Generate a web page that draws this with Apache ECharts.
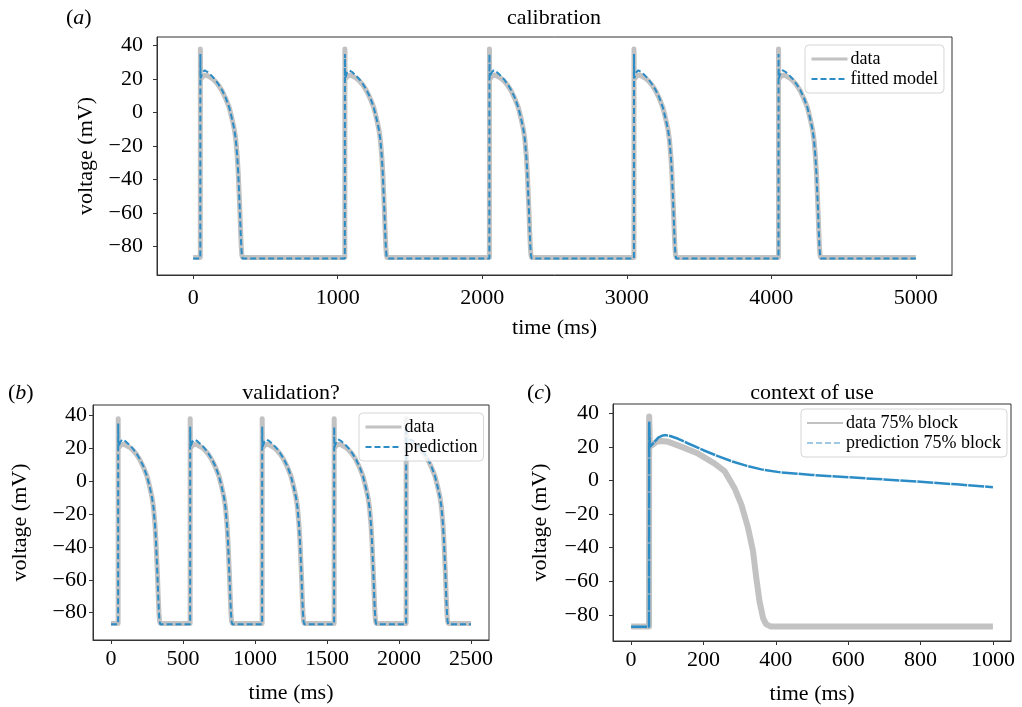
<!DOCTYPE html>
<html><head><meta charset="utf-8">
<script src="https://cdn.jsdelivr.net/npm/echarts@6/dist/echarts.min.js"></script>
<style>html,body{margin:0;padding:0;background:#fff}#c{width:1022px;height:707px}</style>
</head><body><div id="c"></div>
<script>
// ---------- data ----------
// one action-potential beat, time measured from cycle start (upstroke at 50 ms)
const modelBeatT = [0, 49.5, 50, 51.5, 55, 65, 80, 100, 125, 150, 175, 200, 225, 250, 270, 285, 295, 305, 312, 318, 323, 328, 333, 337, 342];
const modelBeatV = [-87, -87, 35, 20.5, 21.5, 24, 25.3, 24.3, 22.3, 20, 17, 13.5, 9, 3, -4, -10, -16, -26, -36, -48, -58, -70, -80, -85, -87];
const dataBeatT  = [0, 49.5, 50, 51.5, 56, 70, 90, 110, 130, 150, 175, 200, 225, 250, 270, 285, 295, 305, 312, 318, 323, 328, 333, 337, 342];
const dataBeatV  = [-86.5, -86.5, 38, 20, 20.5, 22, 22.5, 21.5, 20.5, 19, 16.5, 13, 8.5, 3, -4, -10, -16, -26, -36, -48, -58, -70, -80, -85, -86.5];
const restV = -87;
const restDataV = -86.5;

// (a) calibration: 5 beats, 1000 ms cycle
const calibStarts = [0, 1000, 2000, 3000, 4000];
const calibEnd = 5000;
const calibModelSpike = [35, 35, 35, 35, 35];
// (b) validation: 5 beats, 500 ms cycle
const validStarts = [0, 500, 1000, 1500, 2000];
const validEnd = 2500;
const validModelSpike = [35, 33, 33, 33, 33];

// (c) context of use, 75% block
const blockDataT = [0, 49.5, 50, 52, 58, 70, 85, 103, 140, 185, 231, 259, 286, 305, 323, 337, 346, 355, 365, 373, 385, 1000];
const blockDataV = [-86.8, -86.8, 38, 20, 21, 23, 23.5, 23, 20, 16, 10, 5.4, -4.6, -14.5, -28, -42, -58, -72, -82, -85.5, -86.8, -86.8];
const blockModelT = [0, 49.5, 50, 52, 57, 65, 75, 85, 96, 110, 130, 158, 200, 240, 280, 320, 360, 414, 500, 600, 700, 800, 900, 1000];
const blockModelV = [-87, -87, 35, 20, 20.5, 23, 25.5, 26.6, 27, 26.3, 24.8, 22, 18, 14.5, 11.3, 8.7, 6.6, 4.8, 3.3, 1.9, 0.6, -0.8, -2.3, -4];

// ticks
const yTicks = [-80, -60, -40, -20, 0, 20, 40];
const xTicksA = [0, 1000, 2000, 3000, 4000, 5000];
const xTicksB = [0, 500, 1000, 1500, 2000, 2500];
const xTicksC = [0, 200, 400, 600, 800, 1000];

// ---------- build series ----------
function buildTrain(starts, end, T, V, spikes, rest) {
  const out = [];
  starts.forEach((s, k) => {
    T.forEach((t, i) => {
      let v = V[i];
      if (spikes && i === 2) v = spikes[k];
      out.push([s + t, v]);
    });
  });
  out.push([end, rest]);
  return out;
}
const pair = (T, V) => T.map((t, i) => [t, V[i]]);

const calibData = buildTrain(calibStarts, calibEnd, dataBeatT, dataBeatV, null, restDataV);
const calibModel = buildTrain(calibStarts, calibEnd, modelBeatT, modelBeatV, calibModelSpike, restV);
const validData = buildTrain(validStarts, validEnd, dataBeatT, dataBeatV, null, restDataV);
const validModel = buildTrain(validStarts, validEnd, modelBeatT, modelBeatV, validModelSpike, restV);
const blockData = pair(blockDataT, blockDataV);
const blockModel = pair(blockModelT, blockModelV);

// ---------- styling ----------
const FONT = 'Liberation Serif';
const GRAY = '#c2c2c2';
const BLUE = '#2b8cc6';
const AXC = '#333';
const minus = v => String(v).replace('-', '\u2212');

function xAxis(idx, min, max, ticks, lblMargin) {
  return {
    type: 'value', gridIndex: idx, min, max,
    name: 'time (ms)', nameLocation: 'middle', nameGap: 42,
    nameTextStyle: {fontFamily: FONT, fontSize: 22, color: '#000'},
    axisLine: {show: true, onZero: false, lineStyle: {color: AXC, width: 1}},
    axisTick: {show: true, inside: false, length: 4, lineStyle: {color: AXC}, customValues: ticks},
    axisLabel: {fontFamily: FONT, fontSize: 22, color: '#000', margin: lblMargin, customValues: ticks, formatter: minus},
    splitLine: {show: false}
  };
}
function yAxis(idx, min, max, gap, lblMargin) {
  return {
    type: 'value', gridIndex: idx, min, max,
    name: 'voltage (mV)', nameLocation: 'middle', nameGap: gap,
    nameTextStyle: {fontFamily: FONT, fontSize: 22, color: '#000'},
    axisLine: {show: true, onZero: false, lineStyle: {color: AXC, width: 1}},
    axisTick: {show: true, inside: false, length: 4, lineStyle: {color: AXC}, customValues: yTicks},
    axisLabel: {fontFamily: FONT, fontSize: 22, color: '#000', margin: lblMargin, customValues: yTicks, formatter: minus},
    splitLine: {show: false}
  };
}
function legend(left, top, names, gap) {
  return {
    left, top, orient: 'vertical', itemWidth: 36, itemHeight: 14, itemGap: gap,
    padding: [5, 6, 5, 5], borderColor: '#d6d6d6', borderWidth: 1, borderRadius: 4,
    backgroundColor: 'rgba(255,255,255,0.8)',
    textStyle: {fontFamily: FONT, fontSize: 18, color: '#000', padding: [0, 0, 0, -2]},
    data: names
  };
}
const noSym = {opacity: 0};
const labelTitle = (ch, x, y) => ({
  text: '{p|(}{i|' + ch + '}{p|)}', left: x, top: y, padding: 0,
  textStyle: {fontWeight: 'normal', rich: {p: {fontFamily: FONT, fontSize: 22, fontWeight: 'normal', color: '#000'}, i: {fontFamily: FONT, fontSize: 22, fontStyle: 'italic', fontWeight: 'normal', color: '#000'}}}
});
const mainTitle = (t, x, y) => ({
  text: t, left: x, top: y, textAlign: 'center', padding: 0,
  textStyle: {fontFamily: FONT, fontSize: 22, fontWeight: 'normal', color: '#000'}
});

const option = {
  backgroundColor: '#fff',
  animation: false,
  title: [
    mainTitle('calibration', 554, 7), labelTitle('a', 66, 7),
    mainTitle('validation?', 291, 382), labelTitle('b', 8, 382),
    mainTitle('context of use', 812, 382), labelTitle('c', 527, 382)
  ],
  grid: [
    {left: 157, top: 37, width: 795, height: 238, show: true, borderColor: AXC, borderWidth: 1, containLabel: false},
    {left: 93, top: 405, width: 396, height: 235, show: true, borderColor: AXC, borderWidth: 1, containLabel: false},
    {left: 613, top: 404, width: 398, height: 237, show: true, borderColor: AXC, borderWidth: 1, containLabel: false}
  ],
  xAxis: [xAxis(0, -250, 5250, xTicksA, 12), xAxis(1, -125, 2625, xTicksB, 8), xAxis(2, -50, 1050, xTicksC, 8)],
  yAxis: [yAxis(0, -96.9, 45.2, 50, 14), yAxis(1, -96.6, 46.3, 62, 6), yAxis(2, -95.5, 45.5, 62, 14)],
  legend: [
    legend(805, 45, [{name: 'data', lineStyle: {width: 3}, itemStyle: noSym}, {name: 'fitted model', lineStyle: {width: 2}, itemStyle: noSym}], 2),
    legend(359, 413, [{name: 'data ', lineStyle: {width: 3}, itemStyle: noSym}, {name: 'prediction', lineStyle: {width: 2}, itemStyle: noSym}], 2),
    legend(801, 409, [{name: 'data 75% block', lineStyle: {width: 2}, itemStyle: noSym}, {name: 'prediction 75% block', lineStyle: {width: 2, color: '#9ecae1', type: [6, 3]}, itemStyle: noSym}], 2)
  ],
  series: [
    {name: 'data', type: 'line', xAxisIndex: 0, yAxisIndex: 0, data: calibData, symbol: 'none', color: GRAY, lineStyle: {color: GRAY, width: 5, join: 'round'}, z: 2},
    {name: 'fitted model', type: 'line', xAxisIndex: 0, yAxisIndex: 0, data: calibModel, symbol: 'none', color: BLUE, lineStyle: {color: BLUE, width: 2, type: [6, 3]}, z: 3},
    {name: 'data ', type: 'line', xAxisIndex: 1, yAxisIndex: 1, data: validData, symbol: 'none', color: GRAY, lineStyle: {color: GRAY, width: 5, join: 'round'}, z: 2},
    {name: 'prediction', type: 'line', xAxisIndex: 1, yAxisIndex: 1, data: validModel, symbol: 'none', color: BLUE, lineStyle: {color: BLUE, width: 2, type: [6, 3]}, z: 3},
    {name: 'data 75% block', type: 'line', xAxisIndex: 2, yAxisIndex: 2, data: blockData, symbol: 'none', color: GRAY, lineStyle: {color: GRAY, width: 6, join: 'round'}, z: 2},
    {name: 'prediction 75% block', type: 'line', xAxisIndex: 2, yAxisIndex: 2, data: blockModel, symbol: 'none', color: BLUE, lineStyle: {color: BLUE, width: 2.5, type: [16, 1]}, z: 3}
  ]
};
const chart = echarts.init(document.getElementById('c'), null, {renderer: 'canvas'});
chart.setOption(option);
</script></body></html>
